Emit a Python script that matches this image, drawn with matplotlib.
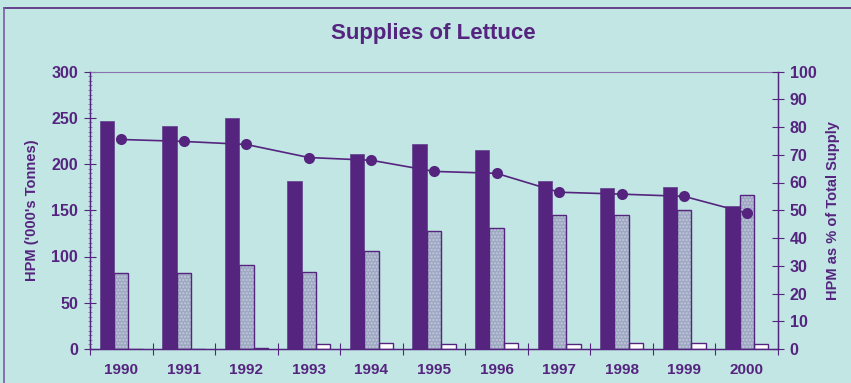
import numpy as np
import matplotlib.pyplot as plt
from matplotlib.lines import Line2D
from matplotlib.ticker import MultipleLocator, FixedLocator

years = ['1990', '1991', '1992', '1993', '1994', '1995',
         '1996', '1997', '1998', '1999', '2000']
hpm = [247, 241, 250, 182, 211, 222, 215, 182, 174, 175, 155]
imports = [82, 82, 91, 83, 106, 128, 131, 145, 145, 150, 166]
other = [0, 0, 1.5, 5, 6, 5, 6, 5, 7, 6, 5]
hpm_pct = [75.5, 74.8, 73.7, 69, 68, 64, 63.3, 56.5, 55.8, 55, 49]

bg = '#c1e6e3'
purple = '#55247f'
grey = '#9ea8c3'

plt.rcParams['font.family'] = ['Liberation Sans', 'DejaVu Sans']

fig = plt.figure(figsize=(8.51, 3.83), dpi=100, facecolor=bg)
ax = fig.add_axes([90 / 851, 34 / 383, 688 / 851, 277.5 / 383])
ax.set_facecolor(bg)

x = np.arange(len(years))
w = 0.23
ax.bar(x - w, hpm, w, color=purple, edgecolor='#6a4a95', linewidth=0.6, zorder=2)
# stippled grey bars: dotted fill first, purple outline on top
ax.bar(x, imports, w, color=grey, edgecolor='#c2c9da', hatch='.....',
       linewidth=0, zorder=2)
ax.bar(x, imports, w, fill=False, edgecolor=purple, linewidth=1.0, zorder=3)
ax.bar(x + w, other, w, color='white', edgecolor=purple, linewidth=1.0, zorder=2)

ax.set_xlim(-0.5, len(years) - 0.5)
ax.set_ylim(0, 300)
ax.yaxis.set_major_locator(MultipleLocator(50))
ax.yaxis.set_minor_locator(MultipleLocator(5))
ax.xaxis.set_major_locator(FixedLocator(np.arange(-0.5, len(years), 1.0)))
ax.xaxis.set_minor_locator(FixedLocator(x))
ax.set_xticklabels([])
ax.set_xticklabels(years, minor=True)
ax.tick_params(axis='x', which='major', direction='inout', length=9,
               color=purple, width=0.8)
ax.tick_params(axis='x', which='minor', length=0, pad=10,
               labelsize=11, labelcolor=purple)
ax.tick_params(axis='y', which='major', direction='inout', length=9,
               color=purple, width=0.8, labelsize=11.5, labelcolor=purple, pad=4)
ax.tick_params(axis='y', which='minor', direction='inout', length=2.5,
               color='#7a5ea0', width=0.5)
for lab in ax.get_yticklabels() + ax.get_xticklabels(minor=True):
    lab.set_fontweight('bold')

for side in ['left', 'bottom', 'right']:
    ax.spines[side].set_color(purple)
    ax.spines[side].set_linewidth(1.0)
ax.spines['top'].set_color('#8b74b0')
ax.spines['top'].set_linewidth(0.8)

ax.set_ylabel("HPM ('000's Tonnes)", color=purple, fontsize=10.5,
              fontweight='bold', labelpad=9)

ax2 = ax.twinx()
ax2.plot(x, hpm_pct, color=purple, linewidth=1.2, marker='o',
         markersize=8, markeredgewidth=0, zorder=4)
ax2.set_ylim(0, 100)
ax2.yaxis.set_major_locator(MultipleLocator(10))
ax2.tick_params(axis='y', direction='inout', length=9, color=purple, width=0.8,
                labelsize=11.5, labelcolor=purple, pad=4)
for lab in ax2.get_yticklabels():
    lab.set_fontweight('bold')
for side in ['left', 'bottom', 'right']:
    ax2.spines[side].set_color(purple)
ax2.spines['top'].set_visible(False)
ax2.set_ylabel('HPM as % of Total Supply', color=purple, fontsize=10.5,
               fontweight='bold', labelpad=7)

fig.text(433 / 851, 1 - 34 / 383, 'Supplies of Lettuce', ha='center',
         va='center', fontsize=16, fontweight='bold', color=purple)

# frame around the chart area
fig.add_artist(Line2D([4 / 851, 1], [1 - 8 / 383, 1 - 8 / 383],
                      color=purple, linewidth=1.2))
fig.add_artist(Line2D([4 / 851, 4 / 851], [0, 1 - 8 / 383],
                      color='#7a5ea0', linewidth=1.2))

fig.savefig('out.png', dpi=100, facecolor=bg)
